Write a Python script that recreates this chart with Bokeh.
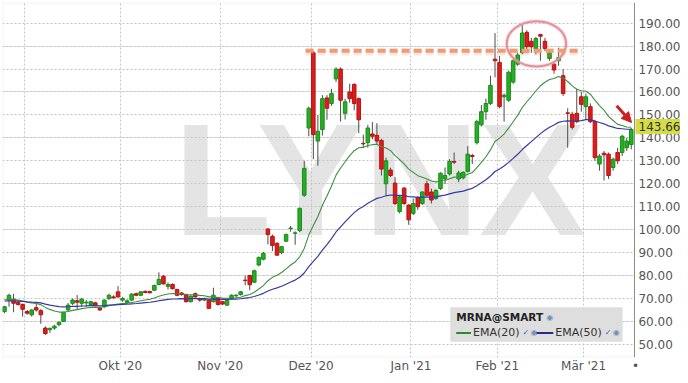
import numpy as np
import pandas as pd
from bokeh.plotting import figure
from bokeh.models import (Range1d, FixedTicker, Label, BoxAnnotation, Arrow, Grid, Span,
                          NormalHead, ColumnDataSource)
from bokeh.core.properties import value
from bokeh.embed import file_html
from bokeh.resources import INLINE

# ---------------- data ----------------
FIRST_DAY = "2020-08-25"
LAST_DAY = "2021-03-15"
HOLIDAYS = ["2020-09-07", "2020-11-26", "2020-12-25", "2021-01-01", "2021-01-18", "2021-02-15"]
MONTH_LABELS = ["", "Okt '20", "Nov '20", "Dez '20", "Jan '21", "Feb '21", "Mär '21"]
Y_TICKS = [50, 60, 70, 80, 90, 100, 110, 120, 130, 140, 150, 160, 170, 180, 190]

opens = [64.3, 69.3, 69.7, 68.3, 67.4, 64.3, 62.9, 66.0, 64.7, 57.1,
         56.4, 57.1, 58.6, 60.0, 65.0, 67.9, 69.0, 67.9, 68.1, 67.4,
         68.1, 65.7, 66.4, 70.0, 70.7, 72.9, 69.3, 68.3, 69.3, 72.1,
         71.4, 73.1, 73.0, 73.6, 76.1, 79.7, 75.3, 76.1, 73.9, 72.4,
         71.7, 68.6, 72.1, 70.0, 69.3, 69.3, 68.6, 70.3, 68.6, 67.1,
         70.0, 71.2, 71.7, 78.0, 80.0, 77.1, 84.6, 87.1, 100.3, 97.1,
         94.0, 90.0, 95.0, 100.5, 98.4, 99.6, 115.0, 144.3, 177.1, 138.6,
         143.6, 157.4, 155.0, 165.7, 170.0, 150.7, 160.0, 163.3, 157.1, 137.6,
         137.9, 141.7, 141.1, 138.9, 120.0, 126.0, 120.3, 107.9, 118.1, 110.7,
         107.1, 114.0, 111.4, 120.0, 116.4, 113.6, 117.9, 122.1, 124.3, 129.7,
         122.1, 122.6, 125.4, 132.3, 137.9, 145.7, 151.4, 155.0, 174.3, 172.9,
         157.9, 156.4, 164.3, 172.1, 177.1, 186.0, 182.1, 178.6, 185.0, 182.1,
         174.6, 172.1, 173.6, 167.1, 150.9, 150.3, 150.7, 157.9, 153.6, 153.6,
         147.1, 128.6, 133.3, 132.9, 127.1, 133.6, 133.6, 135.7, 137.1]
highs = [66.8, 72.1, 72.0, 69.0, 67.8, 65.0, 65.3, 67.9, 65.4, 57.9,
         57.3, 58.6, 60.0, 64.2, 68.0, 70.0, 71.5, 70.3, 69.3, 69.0,
         68.6, 66.4, 69.6, 72.1, 71.4, 75.4, 70.7, 69.6, 72.3, 72.6,
         73.3, 73.5, 73.4, 76.0, 81.4, 80.3, 77.0, 76.6, 74.3, 72.9,
         72.1, 71.4, 72.6, 70.4, 70.4, 69.6, 74.7, 70.7, 69.0, 69.6,
         71.8, 71.9, 73.3, 80.0, 80.4, 82.6, 88.3, 90.3, 100.7, 97.9,
         94.6, 92.9, 98.3, 101.6, 99.3, 109.6, 130.0, 153.6, 177.9, 150.0,
         158.6, 158.6, 161.4, 170.7, 170.7, 157.1, 163.6, 163.8, 157.6, 141.4,
         145.7, 146.9, 146.4, 139.6, 131.4, 127.0, 122.9, 114.9, 118.6, 111.1,
         113.6, 114.6, 116.7, 121.4, 117.9, 117.6, 125.0, 127.1, 130.7, 133.6,
         125.7, 125.4, 136.4, 133.0, 147.9, 154.3, 157.1, 167.1, 185.7, 175.7,
         159.3, 169.3, 174.3, 177.1, 189.3, 186.9, 183.6, 184.0, 185.4, 183.6,
         178.0, 172.9, 179.3, 170.0, 152.9, 151.4, 161.4, 160.0, 159.3, 155.0,
         147.9, 132.9, 134.3, 133.6, 131.4, 135.7, 141.4, 140.0, 144.3]
lows = [63.6, 66.4, 64.0, 66.9, 62.1, 62.9, 62.1, 64.3, 59.0, 54.1,
        55.0, 56.4, 57.9, 59.8, 64.3, 67.1, 65.0, 66.4, 66.4, 66.9,
        66.6, 64.6, 66.0, 69.3, 69.9, 70.3, 68.6, 67.9, 69.0, 71.0,
        71.0, 72.3, 72.2, 73.3, 75.7, 76.0, 73.9, 73.9, 71.0, 71.2,
        68.3, 68.3, 70.3, 68.6, 68.9, 65.4, 68.3, 66.9, 67.1, 66.9,
        69.6, 70.4, 71.3, 75.7, 73.6, 76.7, 84.0, 86.6, 93.6, 90.7,
        88.6, 89.3, 94.6, 99.1, 93.4, 99.0, 114.3, 140.7, 130.7, 127.9,
        141.0, 147.9, 154.0, 164.3, 147.1, 148.0, 155.3, 152.0, 142.1, 135.7,
        135.7, 139.3, 137.1, 123.6, 115.0, 122.9, 110.7, 107.1, 110.7, 102.1,
        106.4, 108.6, 110.7, 114.3, 111.4, 113.0, 117.3, 119.9, 123.6, 128.6,
        120.7, 121.9, 124.9, 128.6, 137.1, 144.9, 147.9, 154.3, 166.4, 152.9,
        147.1, 155.7, 163.6, 171.4, 176.4, 176.9, 177.1, 176.4, 173.6, 177.9,
        173.6, 168.0, 171.4, 158.3, 135.7, 143.6, 146.4, 151.4, 147.9, 146.4,
        130.0, 125.7, 121.4, 122.1, 125.7, 128.6, 132.1, 134.3, 135.0]
closes = [66.4, 71.4, 67.9, 67.4, 65.3, 63.6, 65.0, 65.0, 62.9, 54.7,
          57.0, 57.9, 59.6, 63.9, 67.1, 69.3, 68.4, 69.7, 68.4, 68.6,
          67.1, 65.0, 69.3, 71.4, 70.3, 70.7, 70.0, 69.0, 71.9, 71.4,
          72.9, 72.6, 72.5, 75.7, 78.3, 76.4, 76.1, 74.3, 71.4, 71.7,
          68.6, 71.0, 70.7, 69.3, 70.0, 65.7, 71.4, 67.4, 67.6, 69.3,
          71.4, 71.4, 72.9, 77.8, 76.0, 82.1, 87.9, 89.7, 97.9, 93.1,
          88.9, 92.6, 97.9, 100.7, 98.6, 109.3, 126.7, 152.9, 141.4, 142.9,
          157.1, 152.9, 159.3, 170.0, 156.4, 155.7, 157.1, 155.0, 147.9, 137.4,
          144.3, 140.7, 138.6, 126.4, 130.0, 123.6, 111.4, 114.3, 111.4, 104.3,
          111.4, 110.0, 116.4, 115.0, 112.9, 117.1, 124.6, 123.6, 129.7, 129.4,
          124.7, 125.0, 132.9, 131.9, 147.1, 151.4, 155.0, 162.9, 173.6, 153.6,
          158.6, 168.6, 173.6, 176.1, 185.7, 179.7, 179.7, 183.3, 184.3, 178.9,
          177.1, 169.6, 175.0, 159.3, 150.7, 144.6, 147.1, 154.6, 157.9, 147.1,
          131.4, 132.1, 132.6, 123.6, 130.7, 130.0, 140.7, 138.6, 143.66]

# EMA values just before the first visible day
EMA20_START = 69.8
EMA50_START = 69.0
RESISTANCE = 178.0

# ---------------- derived ----------------
dates = pd.bdate_range(FIRST_DAY, LAST_DAY)
dates = dates[~dates.isin(pd.to_datetime(HOLIDAYS))]
n = len(dates)
idx = np.arange(n)
o = np.array(opens); h = np.array(highs); l = np.array(lows); c = np.array(closes)


def ema(values, span, start):
    a = 2.0 / (span + 1)
    out, prev = [], start
    for v in values:
        prev = a * v + (1 - a) * prev
        out.append(prev)
    return out


ema20 = ema(c, 20, EMA20_START)
ema50 = ema(c, 50, EMA50_START)

month_starts = [i for i in range(1, n) if dates[i].month != dates[i - 1].month]
x_ticks = [i - 0.5 for i in month_starts]


# reference-pixel -> data helpers (for decorations only)
def dx(px):
    return (px - 4) / 4.585


def dy(py):
    return 190 - (py - 23) / 2.3333


W, H = 680, 375
BOTTOM = 18
AXIS_X = dx(640)          # position of the price axis line
X_END = 2 + (W - 2) * 638 / 632

p = figure(width=W, height=H,
           x_range=Range1d(dx(2), dx(X_END)), y_range=Range1d(dy(363), dy(2)),
           y_axis_location=None, output_backend="svg", toolbar_location=None,
           min_border_left=2, min_border_top=2, min_border_right=0, min_border_bottom=BOTTOM,
           background_fill_color="white", border_fill_color="white",
           outline_line_color=None)

# x axis (months)
xt = x_ticks + [dx(641)]
p.xaxis.ticker = FixedTicker(ticks=xt)
p.xaxis.major_label_overrides = {t: lab for t, lab in zip(xt, MONTH_LABELS + ["•"])}
p.xaxis.axis_line_color = None
p.xaxis.major_tick_line_color = None
p.xaxis.major_tick_out = 0
p.xaxis.major_tick_in = 0
p.xaxis.minor_tick_line_color = None
p.xaxis.minor_tick_out = 0
p.xaxis.major_label_text_font = "DejaVu Sans"
p.xaxis.major_label_text_font_size = "12px"
p.xaxis.major_label_text_color = "#555555"
p.xaxis.major_label_standoff = 1
p.xaxis.axis_label_standoff = 0

p.xgrid.grid_line_color = "#c4c4c4"
p.xgrid.grid_line_dash = "2 2"
p.add_layout(Grid(dimension=1, ticker=FixedTicker(ticks=Y_TICKS), grid_line_color="#c4c4c4",
                  grid_line_dash="2 2"))

# blank the price-scale strip and draw the chart border
p.add_layout(BoxAnnotation(left=AXIS_X, fill_color="white", fill_alpha=1.0, line_color=None,
                           level="underlay"))
p.add_layout(BoxAnnotation(left=dx(2.5), right=AXIS_X, top=dy(2.5), bottom=dy(362.5),
                           fill_color=None, line_color="#cfcfcf", line_width=1,
                           level="underlay"))

# watermark
p.add_layout(Label(x=dx(175), y=dy(182), text="LYNX", text_font="Liberation Sans",
                   text_font_style="bold", text_font_size="160px", text_color="#e4e4e4",
                   text_baseline="alphabetic", level="image"))

# candles
src = ColumnDataSource(dict(x=idx, o=o, h=h, l=l, c=c))
inc = ColumnDataSource(dict(x=idx[c >= o], top=c[c >= o], bottom=o[c >= o]))
dec = ColumnDataSource(dict(x=idx[c < o], top=o[c < o], bottom=c[c < o]))
p.segment(x0="x", y0="l", x1="x", y1="h", source=src, line_color="#4d4d4d", line_width=1)
p.vbar(x="x", top="top", bottom="bottom", width=0.78, source=inc,
       fill_color="#24b024", line_color="#1a8c1a", line_width=1)
p.vbar(x="x", top="top", bottom="bottom", width=0.78, source=dec,
       fill_color="#dd1c1c", line_color="#b81212", line_width=1)

# EMA lines
p.line(idx, ema20, line_color="#3f8f3f", line_width=1.1)
p.line(idx, ema50, line_color="#3a38a0", line_width=1.2)

# price scale on the right
p.add_layout(Span(location=AXIS_X, dimension="height", line_color="#8c8c8c", line_width=1))
ylab = ColumnDataSource(dict(x=[dx(644)] * len(Y_TICKS), y=Y_TICKS,
                             text=["%.2f" % v for v in Y_TICKS]))
p.text(x="x", y="y", text="text", source=ylab, text_font=value("DejaVu Sans"),
       text_font_size="12px", text_color="#555555", text_baseline="middle",
       text_align="left")

# resistance dashed line
p.add_layout(Arrow(end=None, x_start=dx(308), y_start=RESISTANCE - 0.6, x_end=dx(587),
                   y_end=RESISTANCE - 0.6, line_color="#c88060", line_alpha=0.18,
                   line_width=7, line_dash="8 4"))
p.add_layout(Arrow(end=None, x_start=dx(308), y_start=RESISTANCE, x_end=dx(587),
                   y_end=RESISTANCE, line_color="#f19a74", line_width=4, line_dash="8 4"))

# highlight ellipse
p.ellipse(x=[dx(541)], y=[dy(44)], width=60 / 4.585, height=46 / 2.3333,
          fill_color=None, line_color="#e9a3aa", line_width=4, line_alpha=0.35)
p.ellipse(x=[dx(541)], y=[dy(44)], width=60 / 4.585, height=46 / 2.3333,
          fill_color=None, line_color="#e58f99", line_width=2)

# red arrow
p.add_layout(Arrow(end=NormalHead(size=10, fill_color="#cc2020", line_color="#cc2020"),
                   x_start=dx(622), y_start=dy(107), x_end=dx(637), y_end=dy(124),
                   line_color="#cc2020", line_width=3))

# last price tag
p.add_layout(Label(x=dx(641), y=dy(128), text="%.2f" % closes[-1],
                   text_font="DejaVu Sans", text_font_size="12px", text_color="#333333",
                   text_baseline="middle", background_fill_color="#d6dc46",
                   padding=3))

# legend box
p.add_layout(BoxAnnotation(left=dx(454), right=dx(628), top=dy(312), bottom=dy(347),
                           fill_color="#dedede", fill_alpha=1.0, line_color=None))
p.add_layout(Label(x=dx(460), y=dy(322), text="MRNA@SMART", text_font="DejaVu Sans",
                   text_font_style="bold", text_font_size="10.5px", text_color="#222222",
                   text_baseline="middle"))
p.add_layout(Label(x=dx(551), y=dy(322), text="◉", text_font="DejaVu Sans",
                   text_font_size="8px", text_color="#6f8fb5", text_baseline="middle"))
p.add_layout(Arrow(end=None, x_start=dx(460), y_start=dy(338), x_end=dx(475), y_end=dy(338),
                   line_color="#2f8a2f", line_width=2))
p.add_layout(Label(x=dx(477), y=dy(338), text="EMA(20)", text_font="DejaVu Sans",
                   text_font_size="11px", text_color="#333333", text_baseline="middle"))
p.add_layout(Label(x=dx(527), y=dy(338), text="✓", text_font="DejaVu Sans",
                   text_font_size="8px", text_color="#3366cc", text_baseline="middle"))
p.add_layout(Label(x=dx(535), y=dy(338), text="◉", text_font="DejaVu Sans",
                   text_font_size="8px", text_color="#6f8fb5", text_baseline="middle"))
p.add_layout(Arrow(end=None, x_start=dx(541), y_start=dy(338), x_end=dx(558), y_end=dy(338),
                   line_color="#28288f", line_width=2))
p.add_layout(Label(x=dx(560), y=dy(338), text="EMA(50)", text_font="DejaVu Sans",
                   text_font_size="11px", text_color="#333333", text_baseline="middle"))
p.add_layout(Label(x=dx(610), y=dy(338), text="✓", text_font="DejaVu Sans",
                   text_font_size="8px", text_color="#3366cc", text_baseline="middle"))
p.add_layout(Label(x=dx(618), y=dy(338), text="◉", text_font="DejaVu Sans",
                   text_font_size="8px", text_color="#6f8fb5", text_baseline="middle"))

open("out.html", "w").write(file_html(p, INLINE))
